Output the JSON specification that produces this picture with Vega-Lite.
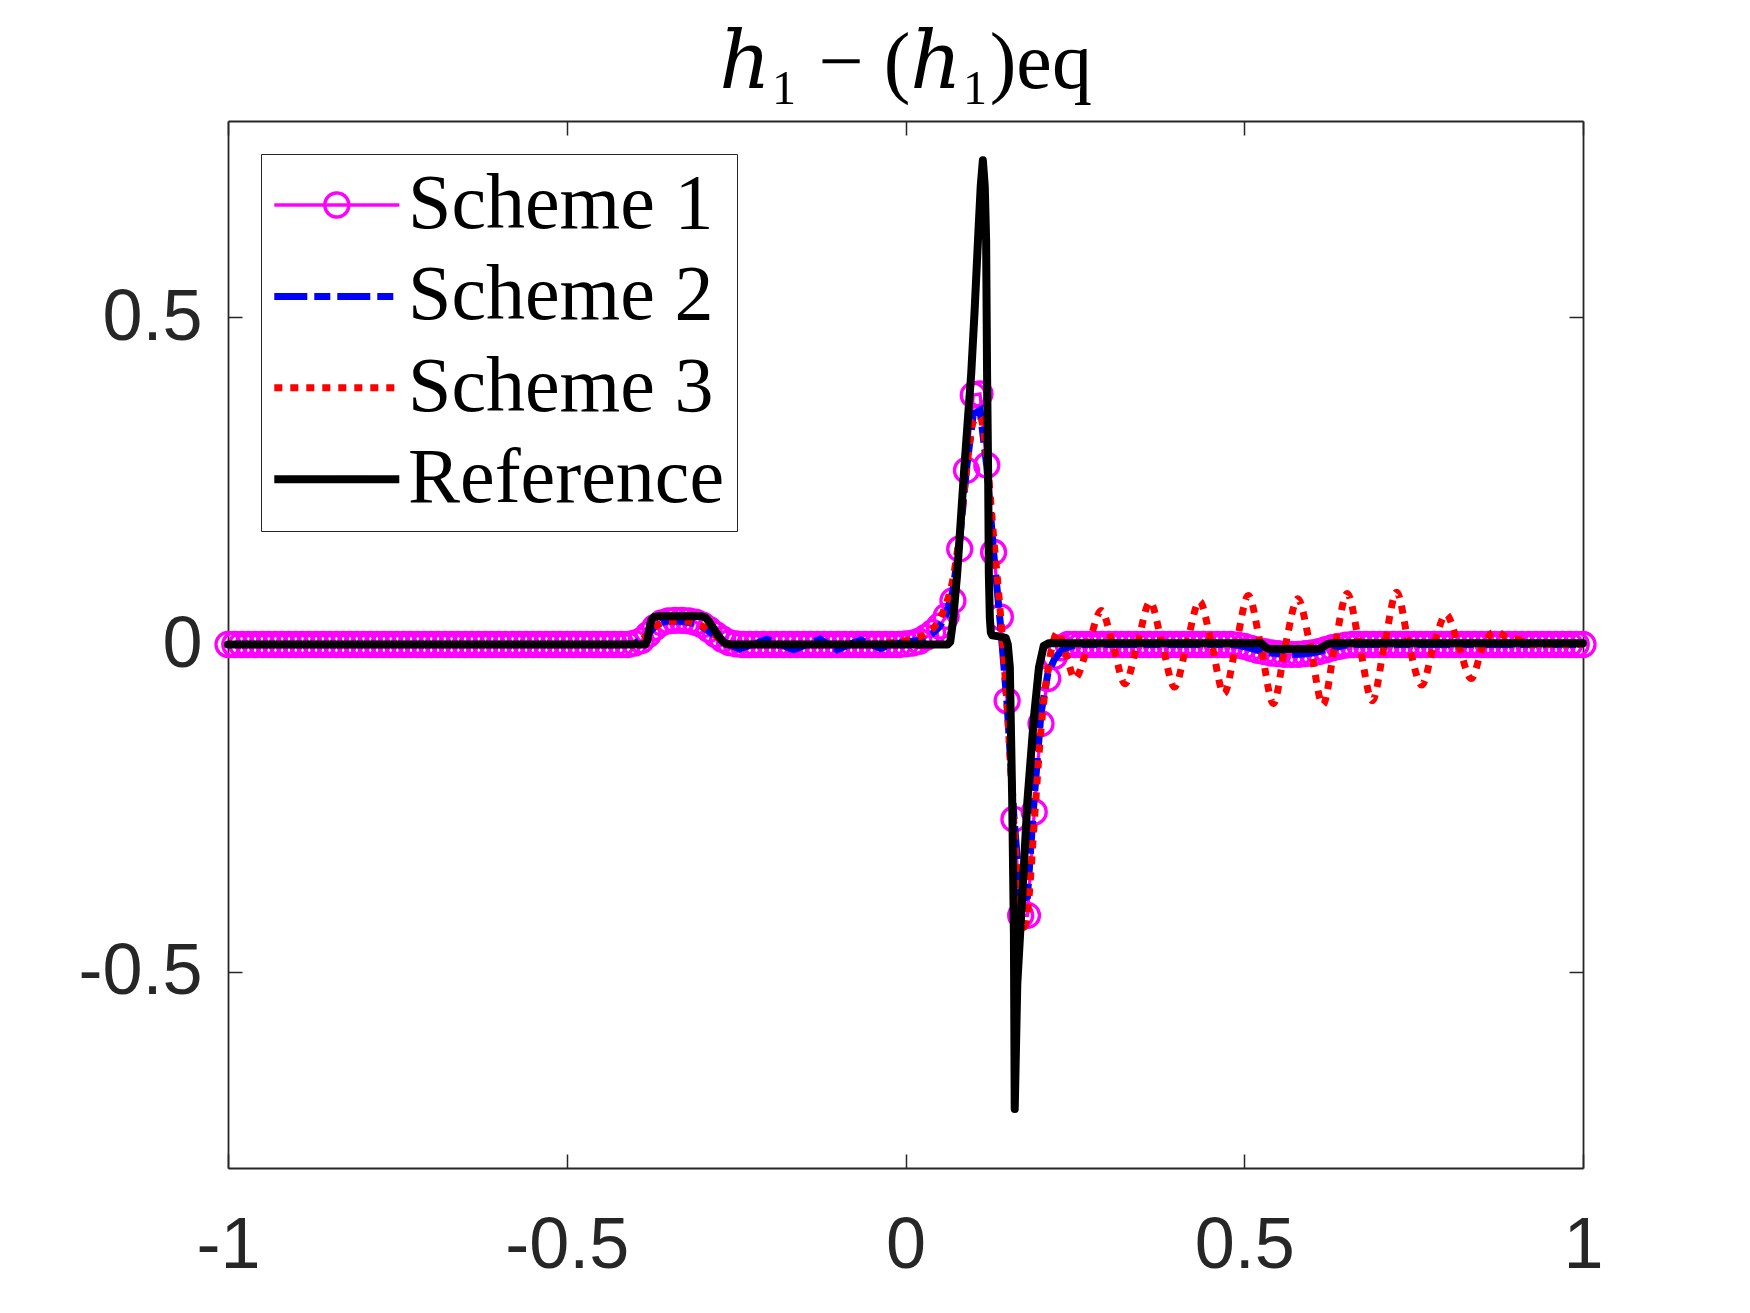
{
  "$schema": "https://vega.github.io/schema/vega-lite/v6.json",
  "width": 1355,
  "height": 1047,
  "autosize": "none",
  "padding": {"left": 228, "top": 121, "right": 167, "bottom": 145},
  "background": "white",
  "title": {"text": "ℎ₁ − (ℎ₁)eq", "font": "Liberation Serif, DejaVu Serif", "fontSize": 80, "fontWeight": "normal", "color": "#000000", "anchor": "middle", "frame": "group", "baseline": "alphabetic", "offset": -48},
  "datasets": {
    "s1": [
      {"x":-1,"y":0},{"x":-0.99,"y":0},{"x":-0.98,"y":0},{"x":-0.97,"y":0},{"x":-0.96,"y":0},{"x":-0.95,"y":0},{"x":-0.94,"y":0},{"x":-0.93,"y":0},{"x":-0.92,"y":0},{"x":-0.91,"y":0},
      {"x":-0.9,"y":0},{"x":-0.89,"y":0},{"x":-0.88,"y":0},{"x":-0.87,"y":0},{"x":-0.86,"y":0},{"x":-0.85,"y":0},{"x":-0.84,"y":0},{"x":-0.83,"y":0},{"x":-0.82,"y":0},{"x":-0.81,"y":0},
      {"x":-0.8,"y":0},{"x":-0.79,"y":0},{"x":-0.78,"y":0},{"x":-0.77,"y":0},{"x":-0.76,"y":0},{"x":-0.75,"y":0},{"x":-0.74,"y":0},{"x":-0.73,"y":0},{"x":-0.72,"y":0},{"x":-0.71,"y":0},
      {"x":-0.7,"y":0},{"x":-0.69,"y":0},{"x":-0.68,"y":0},{"x":-0.67,"y":0},{"x":-0.66,"y":0},{"x":-0.65,"y":0},{"x":-0.64,"y":0},{"x":-0.63,"y":0},{"x":-0.62,"y":0},{"x":-0.61,"y":0},
      {"x":-0.6,"y":0},{"x":-0.59,"y":0},{"x":-0.58,"y":0},{"x":-0.57,"y":0},{"x":-0.56,"y":0},{"x":-0.55,"y":0},{"x":-0.54,"y":0},{"x":-0.53,"y":0},{"x":-0.52,"y":0},{"x":-0.51,"y":0},
      {"x":-0.5,"y":0},{"x":-0.49,"y":0},{"x":-0.48,"y":0},{"x":-0.47,"y":0},{"x":-0.46,"y":0},{"x":-0.45,"y":0},{"x":-0.44,"y":0},{"x":-0.43,"y":0},{"x":-0.42,"y":0},{"x":-0.41,"y":0},
      {"x":-0.4,"y":0.002},{"x":-0.39,"y":0.006},{"x":-0.38,"y":0.015},{"x":-0.37,"y":0.026},{"x":-0.36,"y":0.033},{"x":-0.35,"y":0.036},{"x":-0.34,"y":0.037},{"x":-0.33,"y":0.037},
      {"x":-0.32,"y":0.036},{"x":-0.31,"y":0.034},{"x":-0.3,"y":0.03},{"x":-0.29,"y":0.023},{"x":-0.28,"y":0.015},{"x":-0.27,"y":0.008},{"x":-0.26,"y":0.003},{"x":-0.25,"y":0.001},
      {"x":-0.24,"y":0},{"x":-0.23,"y":0},{"x":-0.22,"y":0},{"x":-0.21,"y":0},{"x":-0.2,"y":0},{"x":-0.19,"y":0},{"x":-0.18,"y":0},{"x":-0.17,"y":0},{"x":-0.16,"y":0},{"x":-0.15,"y":0},
      {"x":-0.14,"y":0},{"x":-0.13,"y":0},{"x":-0.12,"y":0},{"x":-0.11,"y":0},{"x":-0.1,"y":0},{"x":-0.09,"y":0},{"x":-0.08,"y":0},{"x":-0.07,"y":0},{"x":-0.06,"y":0},{"x":-0.05,"y":0},
      {"x":-0.04,"y":0},{"x":-0.03,"y":0},{"x":-0.02,"y":0},{"x":-0.01,"y":0},
      {"x":0,"y":0.001},{"x":0.01,"y":0.002},{"x":0.02,"y":0.005},{"x":0.03,"y":0.011},{"x":0.04,"y":0.018},{"x":0.05,"y":0.028},{"x":0.06,"y":0.043},{"x":0.07,"y":0.067},
      {"x":0.08,"y":0.146},{"x":0.09,"y":0.266},{"x":0.1,"y":0.381},{"x":0.11,"y":0.383},{"x":0.12,"y":0.274},{"x":0.13,"y":0.141},{"x":0.14,"y":0.042},{"x":0.15,"y":-0.086},
      {"x":0.16,"y":-0.267},{"x":0.17,"y":-0.414},{"x":0.18,"y":-0.414},{"x":0.19,"y":-0.256},{"x":0.2,"y":-0.121},{"x":0.21,"y":-0.052},{"x":0.22,"y":-0.018},{"x":0.23,"y":-0.005},{"x":0.24,"y":0},
      {"x":0.25,"y":0},{"x":0.26,"y":0},{"x":0.27,"y":0},{"x":0.28,"y":0},{"x":0.29,"y":0},{"x":0.3,"y":0},{"x":0.31,"y":0},{"x":0.32,"y":0},{"x":0.33,"y":0},{"x":0.34,"y":0},
      {"x":0.35,"y":0},{"x":0.36,"y":0},{"x":0.37,"y":0},{"x":0.38,"y":0},{"x":0.39,"y":0},{"x":0.4,"y":0},{"x":0.41,"y":0},{"x":0.42,"y":0},{"x":0.43,"y":0},{"x":0.44,"y":0},
      {"x":0.45,"y":0},{"x":0.46,"y":0},{"x":0.47,"y":0},{"x":0.48,"y":0},
      {"x":0.49,"y":-0.001},{"x":0.5,"y":-0.003},{"x":0.51,"y":-0.006},{"x":0.52,"y":-0.009},{"x":0.53,"y":-0.011},{"x":0.54,"y":-0.013},{"x":0.55,"y":-0.014},{"x":0.56,"y":-0.015},
      {"x":0.57,"y":-0.015},{"x":0.58,"y":-0.015},{"x":0.59,"y":-0.014},{"x":0.6,"y":-0.013},{"x":0.61,"y":-0.011},{"x":0.62,"y":-0.008},{"x":0.63,"y":-0.005},{"x":0.64,"y":-0.003},{"x":0.65,"y":-0.001},
      {"x":0.66,"y":0},{"x":0.67,"y":0},{"x":0.68,"y":0},{"x":0.69,"y":0},{"x":0.7,"y":0},{"x":0.71,"y":0},{"x":0.72,"y":0},{"x":0.73,"y":0},{"x":0.74,"y":0},{"x":0.75,"y":0},
      {"x":0.76,"y":0},{"x":0.77,"y":0},{"x":0.78,"y":0},{"x":0.79,"y":0},{"x":0.8,"y":0},{"x":0.81,"y":0},{"x":0.82,"y":0},{"x":0.83,"y":0},{"x":0.84,"y":0},{"x":0.85,"y":0},
      {"x":0.86,"y":0},{"x":0.87,"y":0},{"x":0.88,"y":0},{"x":0.89,"y":0},{"x":0.9,"y":0},{"x":0.91,"y":0},{"x":0.92,"y":0},{"x":0.93,"y":0},{"x":0.94,"y":0},{"x":0.95,"y":0},
      {"x":0.96,"y":0},{"x":0.97,"y":0},{"x":0.98,"y":0},{"x":0.99,"y":0},{"x":1,"y":0}
    ],
    "s2": [
      {"x":-1,"y":0},{"x":-0.41,"y":0},{"x":-0.4,"y":0.002},{"x":-0.39,"y":0.006},{"x":-0.38,"y":0.016},{"x":-0.37,"y":0.027},{"x":-0.36,"y":0.034},{"x":-0.35,"y":0.036},
      {"x":-0.34,"y":0.036},{"x":-0.33,"y":0.035},{"x":-0.32,"y":0.034},{"x":-0.31,"y":0.032},{"x":-0.3,"y":0.027},{"x":-0.29,"y":0.02},{"x":-0.28,"y":0.012},{"x":-0.27,"y":0.005},{"x":-0.26,"y":0},
      {"x":-0.245,"y":-0.007},{"x":-0.225,"y":0},{"x":-0.205,"y":0.008},{"x":-0.185,"y":0},{"x":-0.165,"y":-0.008},{"x":-0.145,"y":0},{"x":-0.126,"y":0.008},{"x":-0.113,"y":0},
      {"x":-0.101,"y":-0.008},{"x":-0.083,"y":0},{"x":-0.066,"y":0.007},{"x":-0.05,"y":0},{"x":-0.037,"y":-0.006},{"x":-0.02,"y":0},
      {"x":0,"y":0.004},{"x":0.01,"y":0.005},{"x":0.02,"y":0.007},{"x":0.03,"y":0.011},{"x":0.04,"y":0.017},{"x":0.05,"y":0.027},{"x":0.06,"y":0.046},{"x":0.07,"y":0.082},
      {"x":0.08,"y":0.16},{"x":0.09,"y":0.268},{"x":0.1,"y":0.352},{"x":0.11,"y":0.358},{"x":0.12,"y":0.272},{"x":0.13,"y":0.142},{"x":0.14,"y":0.032},{"x":0.15,"y":-0.092},
      {"x":0.16,"y":-0.262},{"x":0.17,"y":-0.392},{"x":0.18,"y":-0.385},{"x":0.19,"y":-0.235},{"x":0.2,"y":-0.105},{"x":0.21,"y":-0.045},{"x":0.22,"y":-0.022},{"x":0.23,"y":-0.01},
      {"x":0.24,"y":-0.004},{"x":0.25,"y":-0.001},{"x":0.26,"y":0},{"x":0.48,"y":0},
      {"x":0.49,"y":-0.001},{"x":0.5,"y":-0.003},{"x":0.51,"y":-0.006},{"x":0.52,"y":-0.009},{"x":0.53,"y":-0.011},{"x":0.54,"y":-0.013},{"x":0.55,"y":-0.014},{"x":0.56,"y":-0.015},
      {"x":0.57,"y":-0.015},{"x":0.58,"y":-0.015},{"x":0.59,"y":-0.014},{"x":0.6,"y":-0.013},{"x":0.61,"y":-0.011},{"x":0.62,"y":-0.008},{"x":0.63,"y":-0.005},{"x":0.64,"y":-0.003},{"x":0.65,"y":-0.001},
      {"x":0.66,"y":0},{"x":1,"y":0}
    ],
    "s3": [
      {"x":-1,"y":0},{"x":-0.41,"y":0},{"x":-0.4,"y":0.002},{"x":-0.39,"y":0.007},{"x":-0.38,"y":0.016},{"x":-0.37,"y":0.026},{"x":-0.36,"y":0.033},{"x":-0.35,"y":0.035},
      {"x":-0.34,"y":0.036},{"x":-0.33,"y":0.036},{"x":-0.32,"y":0.035},{"x":-0.31,"y":0.032},{"x":-0.3,"y":0.028},{"x":-0.29,"y":0.021},{"x":-0.28,"y":0.013},{"x":-0.27,"y":0.006},
      {"x":-0.26,"y":0.001},{"x":-0.25,"y":-0.001},{"x":-0.23,"y":0},{"x":-0.05,"y":0},{"x":-0.03,"y":0.002},{"x":-0.01,"y":0.004},
      {"x":0,"y":0.006},{"x":0.01,"y":0.008},{"x":0.02,"y":0.011},{"x":0.03,"y":0.016},{"x":0.04,"y":0.024},{"x":0.05,"y":0.038},{"x":0.06,"y":0.062},{"x":0.07,"y":0.1},
      {"x":0.08,"y":0.17},{"x":0.09,"y":0.265},{"x":0.1,"y":0.34},{"x":0.11,"y":0.348},{"x":0.12,"y":0.285},{"x":0.13,"y":0.165},{"x":0.14,"y":0.048},{"x":0.15,"y":-0.095},
      {"x":0.16,"y":-0.275},{"x":0.17,"y":-0.415},{"x":0.175,"y":-0.432},{"x":0.18,"y":-0.41},{"x":0.19,"y":-0.272},{"x":0.2,"y":-0.13},{"x":0.21,"y":-0.04},
      {"x":0.225,"y":0.019},{"x":0.237,"y":-0.015},{"x":0.25,"y":-0.052},{"x":0.27,"y":0},{"x":0.289,"y":0.052},{"x":0.306,"y":0},{"x":0.324,"y":-0.06},{"x":0.342,"y":0},
      {"x":0.361,"y":0.065},{"x":0.379,"y":0},{"x":0.397,"y":-0.065},{"x":0.415,"y":0},{"x":0.434,"y":0.066},{"x":0.452,"y":0},{"x":0.47,"y":-0.075},{"x":0.488,"y":0},
      {"x":0.506,"y":0.075},{"x":0.524,"y":0},{"x":0.543,"y":-0.09},{"x":0.561,"y":0},{"x":0.579,"y":0.07},{"x":0.597,"y":0},{"x":0.616,"y":-0.092},{"x":0.634,"y":0},
      {"x":0.652,"y":0.078},{"x":0.67,"y":0},{"x":0.689,"y":-0.086},{"x":0.707,"y":0},{"x":0.725,"y":0.08},{"x":0.743,"y":0},{"x":0.762,"y":-0.062},{"x":0.78,"y":0},
      {"x":0.798,"y":0.046},{"x":0.816,"y":0},{"x":0.835,"y":-0.052},{"x":0.853,"y":0},{"x":0.871,"y":0.02},{"x":0.89,"y":0.01},{"x":0.905,"y":0.008},{"x":0.92,"y":0},{"x":1,"y":0}
    ],
    "ref": [
      {"x":-1,"y":0},{"x":-0.384,"y":0},{"x":-0.381,"y":0.006},{"x":-0.378,"y":0.025},{"x":-0.375,"y":0.038},{"x":-0.371,"y":0.042},{"x":-0.365,"y":0.043},{"x":-0.3,"y":0.043},
      {"x":-0.295,"y":0.041},{"x":-0.29,"y":0.035},{"x":-0.283,"y":0.024},{"x":-0.276,"y":0.013},{"x":-0.27,"y":0.005},{"x":-0.265,"y":0.001},{"x":-0.26,"y":0},
      {"x":0.062,"y":0},{"x":0.066,"y":0.004},{"x":0.07,"y":0.035},{"x":0.0763,"y":0.108},{"x":0.0862,"y":0.261},{"x":0.097,"y":0.414},{"x":0.102,"y":0.51},{"x":0.107,"y":0.618},
      {"x":0.111,"y":0.7},{"x":0.1142,"y":0.74},{"x":0.117,"y":0.7},{"x":0.119,"y":0.618},{"x":0.1204,"y":0.414},{"x":0.122,"y":0.26},{"x":0.123,"y":0.108},{"x":0.1245,"y":0.04},
      {"x":0.126,"y":0.018},{"x":0.128,"y":0.014},{"x":0.14,"y":0.012},{"x":0.148,"y":0.01},{"x":0.151,"y":0},{"x":0.154,"y":-0.035},{"x":0.1575,"y":-0.238},{"x":0.16,"y":-0.442},
      {"x":0.1612,"y":-0.71},{"x":0.165,"y":-0.519},{"x":0.172,"y":-0.391},{"x":0.18,"y":-0.238},{"x":0.1896,"y":-0.111},{"x":0.197,"y":-0.035},{"x":0.204,"y":-0.002},
      {"x":0.2117,"y":0.002},{"x":0.525,"y":0.002},{"x":0.531,"y":-0.004},{"x":0.537,"y":-0.007},{"x":0.61,"y":-0.007},{"x":0.617,"y":-0.003},{"x":0.624,"y":0.001},{"x":0.63,"y":0.002},{"x":1,"y":0.002}
    ]
  },
  "layer": [
    {
      "data": {"name": "s1"},
      "mark": {"type": "line", "strokeWidth": 3.3},
      "encoding": {
        "x": {"field": "x", "type": "quantitative", "scale": {"domain": [-1, 1], "nice": false, "zero": false},
              "axis": {"orient": "bottom", "title": null, "values": [-1, -0.5, 0, 0.5, 1], "labelExpr": "'' + datum.value", "labelPadding": 56, "labelFlush": false, "labelOverlap": false}},
        "y": {"field": "y", "type": "quantitative", "scale": {"domain": [-0.8, 0.8], "nice": false, "zero": false},
              "axis": {"orient": "left", "title": null, "values": [-0.5, 0, 0.5], "labelExpr": "'' + datum.value", "labelPadding": 40, "labelOverlap": false}},
        "stroke": {
          "datum": "Scheme 1",
          "scale": {"domain": ["Scheme 1", "Scheme 2", "Scheme 3", "Reference"], "range": ["#ff00ff", "#0000ff", "#ff0000", "#000000"]},
          "legend": {
            "title": null, "orient": "top-left", "offset": 33, "padding": 12, "rowPadding": 13.4,
            "labelFont": "Liberation Serif", "labelFontSize": 78, "labelColor": "#000000", "labelOffset": 57, "labelLimit": 600,
            "symbolSize": 3600, "symbolStrokeWidth": 4, "strokeColor": "#262626", "fillColor": "#ffffff", "cornerRadius": 0,
            "encode": {
              "symbols": {
                "update": {
                  "shape": {"signal": "datum.value === 'Scheme 1' ? 'M-1.257,0L2.91,0M1.227,0A0.4,0.4,0,1,1,0.427,0A0.4,0.4,0,1,1,1.227,0' : 'M-1.257,0L2.91,0'"},
                  "strokeDash": {"signal": "datum.value === 'Scheme 2' ? [33,7,16,7] : datum.value === 'Scheme 3' ? [8,8] : [1,0]"},
                  "strokeWidth": {"signal": "datum.value === 'Scheme 1' ? 3.5 : datum.value === 'Reference' ? 8 : 7"},
                  "fill": {"value": "transparent"},
                  "opacity": {"value": 1}
                }
              }
            }
          }
        }
      }
    },
    {
      "data": {"name": "s1"},
      "mark": {"type": "point", "shape": "circle", "filled": false, "size": 576, "strokeWidth": 3.3, "opacity": 1},
      "encoding": {
        "x": {"field": "x", "type": "quantitative", "axis": null},
        "y": {"field": "y", "type": "quantitative", "axis": null},
        "stroke": {"datum": "Scheme 1"}
      }
    },
    {
      "data": {"name": "s2"},
      "mark": {"type": "line", "strokeWidth": 7, "strokeDash": [33, 7, 16, 7]},
      "encoding": {
        "x": {"field": "x", "type": "quantitative", "axis": null},
        "y": {"field": "y", "type": "quantitative", "axis": null},
        "stroke": {"datum": "Scheme 2"}
      }
    },
    {
      "data": {"name": "s3"},
      "mark": {"type": "line", "strokeWidth": 7, "strokeDash": [8, 8], "interpolate": "monotone"},
      "encoding": {
        "x": {"field": "x", "type": "quantitative", "axis": null},
        "y": {"field": "y", "type": "quantitative", "axis": null},
        "stroke": {"datum": "Scheme 3"}
      }
    },
    {
      "data": {"name": "ref"},
      "mark": {"type": "line", "strokeWidth": 8, "strokeJoin": "round", "strokeCap": "round"},
      "encoding": {
        "x": {"field": "x", "type": "quantitative", "axis": {"orient": "top", "title": null, "labels": false, "values": [-1, -0.5, 0, 0.5, 1]}},
        "y": {"field": "y", "type": "quantitative", "axis": {"orient": "right", "title": null, "labels": false, "values": [-0.5, 0, 0.5]}},
        "stroke": {"datum": "Reference"}
      }
    }
  ],
  "resolve": {"axis": {"x": "independent", "y": "independent"}},
  "config": {
    "view": {"stroke": null},
    "axis": {"grid": false, "domainColor": "#262626", "domainWidth": 1.8, "tickColor": "#262626", "tickWidth": 1.5, "tickSize": -14,
             "labelColor": "#262626", "labelFont": "Liberation Sans", "labelFontSize": 72}
  }
}
